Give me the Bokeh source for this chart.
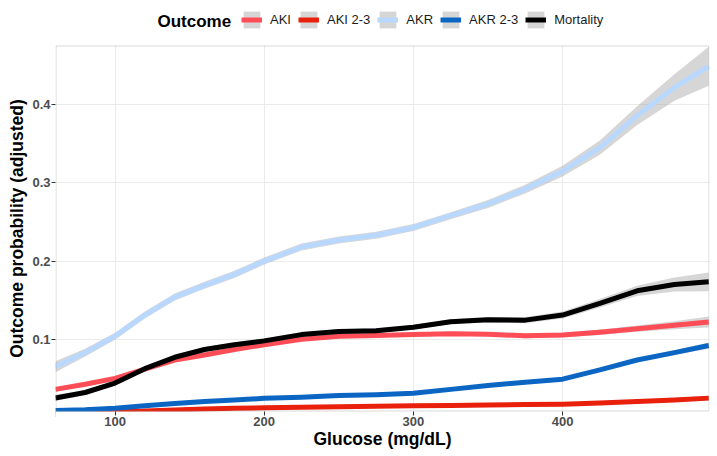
from bokeh.plotting import figure
from bokeh.models import (Range1d, FixedTicker, Legend, LegendItem, Label,
                          ColumnDataSource, BoxAnnotation)
from bokeh.embed import file_html
from bokeh.resources import INLINE

# ---- data ----
glucose = [60, 80, 100, 120, 140, 160, 180, 200, 225, 250, 275, 300, 325, 350, 375, 400, 425, 450, 475, 498]

aki = [0.036, 0.0425, 0.050, 0.062, 0.0735, 0.080, 0.087, 0.093, 0.100, 0.104, 0.105, 0.106, 0.107, 0.1065, 0.1045, 0.1055, 0.109, 0.1135, 0.118, 0.122]
aki_se = [0.003, 0.0025, 0.0025, 0.0025, 0.0025, 0.0025, 0.0025, 0.0025, 0.0025, 0.0025, 0.0025, 0.0025, 0.0025, 0.0025, 0.003, 0.003, 0.0035, 0.004, 0.005, 0.007]

aki23 = [0.004, 0.0055, 0.007, 0.0085, 0.0095, 0.011, 0.0118, 0.0125, 0.013, 0.0138, 0.0145, 0.015, 0.0155, 0.016, 0.0165, 0.017, 0.0185, 0.0205, 0.0225, 0.0248]
aki23_se = [0.0015, 0.0012, 0.0012, 0.0012, 0.0012, 0.0012, 0.0012, 0.0012, 0.0012, 0.0012, 0.0012, 0.0012, 0.0012, 0.0012, 0.0013, 0.0014, 0.0016, 0.002, 0.0025, 0.003]

akr = [0.065, 0.083, 0.104, 0.131, 0.154, 0.169, 0.183, 0.200, 0.218, 0.227, 0.233, 0.243, 0.258, 0.273, 0.292, 0.315, 0.345, 0.386, 0.422, 0.449]
akr_se = [0.007, 0.005, 0.0045, 0.0045, 0.0045, 0.0045, 0.0045, 0.0045, 0.0045, 0.0045, 0.0045, 0.0045, 0.0045, 0.005, 0.0055, 0.007, 0.009, 0.012, 0.017, 0.025]

akr23 = [0.009, 0.010, 0.012, 0.015, 0.018, 0.0205, 0.0225, 0.0245, 0.026, 0.028, 0.029, 0.031, 0.036, 0.041, 0.045, 0.049, 0.061, 0.0735, 0.083, 0.092]
akr23_se = [0.0015, 0.0015, 0.0015, 0.0015, 0.0015, 0.0015, 0.0015, 0.0015, 0.0015, 0.0015, 0.0015, 0.0015, 0.0015, 0.0015, 0.0017, 0.002, 0.0022, 0.0025, 0.003, 0.004]

mortality = [0.025, 0.032, 0.044, 0.0625, 0.077, 0.087, 0.093, 0.098, 0.106, 0.110, 0.111, 0.1155, 0.1225, 0.125, 0.1245, 0.131, 0.146, 0.162, 0.170, 0.1735]
mortality_se = [0.004, 0.003, 0.003, 0.003, 0.003, 0.003, 0.003, 0.003, 0.003, 0.003, 0.003, 0.003, 0.003, 0.0035, 0.004, 0.0045, 0.0055, 0.0065, 0.009, 0.012]

outcomes = ["AKI", "AKI 2-3", "AKR", "AKR 2-3", "Mortality"]
colors = ["#FF4D57", "#E8200C", "#B8D8FF", "#0B66C3", "#000000"]
series = [(aki, aki_se), (aki23, aki23_se), (akr, akr_se), (akr23, akr23_se), (mortality, mortality_se)]

x_ticks = [100, 200, 300, 400]
y_ticks = [0.1, 0.2, 0.3, 0.4]

X_MIN, X_MAX = 60.1, 498.5
Y_MIN, Y_MAX = 0.0077, 0.4756
FONT = "Liberation Sans"

W, H = 717, 456
LEFT, RIGHT = 55, 8
PANEL_TOP, PANEL_BOT = 45, 411          # panel rows inside the (full-height) frame
frame_w = W - LEFT - RIGHT
y_per_px = (Y_MAX - Y_MIN) / (PANEL_BOT - PANEL_TOP)
x_per_px = (X_MAX - X_MIN) / frame_w
Y_TOP = Y_MAX + PANEL_TOP * y_per_px
Y_BOTTOM = Y_MIN - (H - PANEL_BOT) * y_per_px

p = figure(width=W, height=H, output_backend="svg", toolbar_location=None,
           x_range=Range1d(X_MIN, X_MAX), y_range=Range1d(Y_BOTTOM, Y_TOP),
           min_border_left=LEFT, min_border_right=RIGHT, min_border_top=0, min_border_bottom=0,
           background_fill_color="white", border_fill_color="white")

p.outline_line_color = None

for ax, ticks in ((p.xaxis, x_ticks), (p.yaxis, y_ticks)):
    ax.ticker = FixedTicker(ticks=ticks)
    ax.axis_line_color = None
    ax.major_tick_in = 0
    ax.major_tick_out = 4
    ax.major_tick_line_color = "#333333"
    ax.minor_tick_line_color = None
    ax.major_label_text_font = FONT
    ax.major_label_text_font_size = "13px"
    ax.major_label_text_font_style = "bold"
    ax.major_label_text_color = "#4D4D4D"
    ax.axis_label_text_font = FONT
    ax.axis_label_text_font_size = "17.5px"
    ax.axis_label_text_font_style = "bold"
    ax.axis_label_text_color = "#000000"
    ax.major_label_standoff = 1

p.xaxis.axis_label = "Glucose (mg/dL)"
p.yaxis.axis_label = "Outcome probability (adjusted)"
p.xaxis.axis_label_standoff = 0
p.yaxis.axis_label_standoff = 2
p.xaxis.fixed_location = Y_MIN

p.xgrid.ticker = FixedTicker(ticks=x_ticks)
p.ygrid.ticker = FixedTicker(ticks=y_ticks)
p.grid.grid_line_color = "#EBEBEB"
p.grid.grid_line_width = 1

items = []
for name, col, (vals, se) in zip(outcomes, colors, series):
    src = ColumnDataSource(dict(x=glucose, y=vals,
                                lo=[v - s for v, s in zip(vals, se)],
                                hi=[v + s for v, s in zip(vals, se)]))
    band = p.varea(x="x", y1="lo", y2="hi", source=src, fill_color="#999999", fill_alpha=0.4)
    ln = p.line(x="x", y="y", source=src, line_color=col, line_width=5, line_join="round")
    items.append(LegendItem(label=name, renderers=[band, ln]))

# white covers outside the panel (clip marks and grid lines to the panel)
pad = 50
p.quad(left=[X_MIN - pad], right=[X_MAX + pad], bottom=[Y_BOTTOM - 1], top=[Y_MIN],
       fill_color="white", line_color=None)
p.quad(left=[X_MIN - pad], right=[X_MAX + pad], bottom=[Y_MAX], top=[Y_TOP + 1],
       fill_color="white", line_color=None)

# panel border (half-pixel aligned)
p.add_layout(BoxAnnotation(left=X_MIN + 0.5 * x_per_px, right=X_MAX - 0.5 * x_per_px,
                           bottom=Y_MIN + 0.5 * y_per_px, top=Y_MAX - 0.5 * y_per_px,
                           fill_alpha=0, line_color="#808080", line_width=1, level="overlay"))

legend = Legend(items=items, orientation="horizontal", location=(186, H - 30),
                padding=0, margin=0, spacing=7, label_standoff=8,
                glyph_width=21, glyph_height=21, label_height=21, label_width=10,
                border_line_color=None, background_fill_alpha=0,
                label_text_font=FONT, label_text_font_size="13px", label_text_color="#1A1A1A")
p.add_layout(legend, "center")

p.add_layout(Label(x=102, y=H - 21, x_units="screen", y_units="screen", text="Outcome",
                   text_font=FONT, text_font_size="17px", text_font_style="bold",
                   text_color="#000000", text_baseline="alphabetic"))

open("out.html", "w").write(file_html(p, INLINE))
